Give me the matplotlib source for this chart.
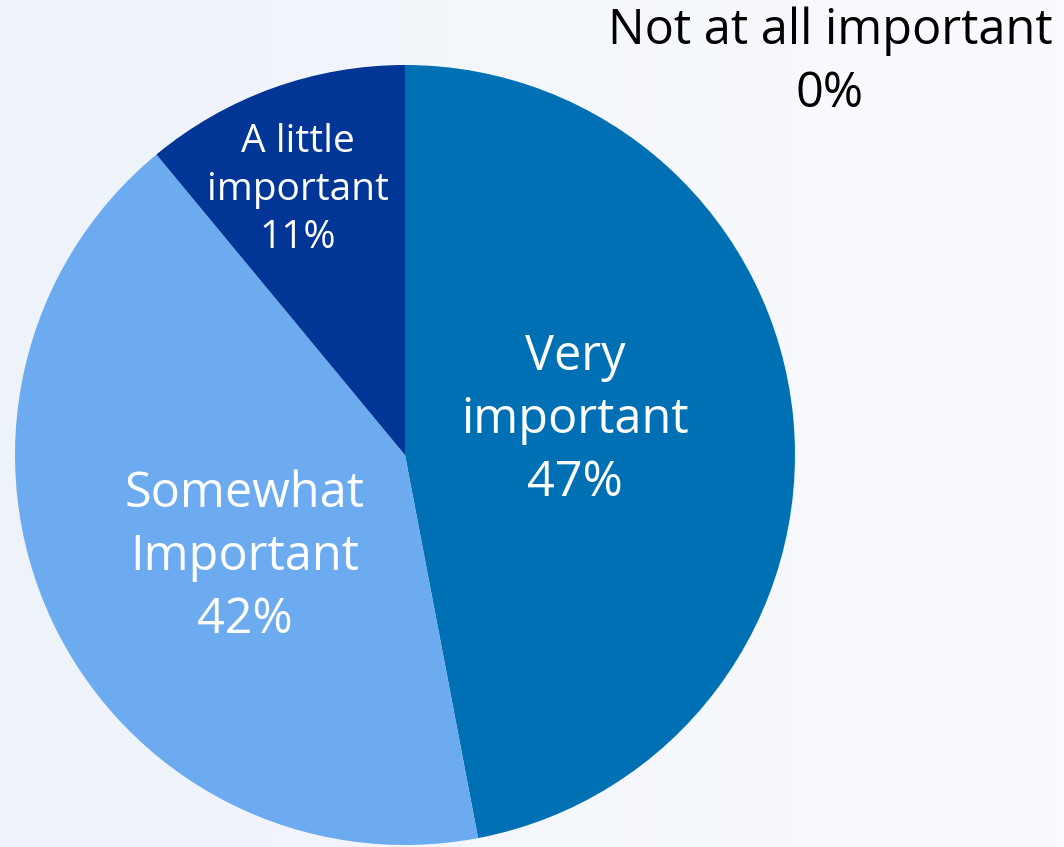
import matplotlib.pyplot as plt
import numpy as np

# survey answers
categories = ["Very\nimportant", "Somewhat\nImportant", "A little\nimportant", "Not at all important"]
shares = [47, 42, 11, 0]
colors = ["#0070B5", "#6DABF1", "#013596", "#1F4E9A"]

W, H = 1064, 847
fig = plt.figure(figsize=(W / 100, H / 100), dpi=100)
ax = fig.add_axes([0, 0, 1, 1])

center = (405, H - 455)
radius = 390
wedges, _ = ax.pie(shares, colors=colors, startangle=90, counterclock=False,
                   center=center, radius=radius, wedgeprops=dict(linewidth=0))
for w in wedges:
    w.set_zorder(1)

# soft left-to-right background gradient
grad = np.linspace(0, 1, 256).reshape(1, -1)
c0 = np.array([0xEE, 0xF3, 0xFA]) / 255
c1 = np.array([0xFA, 0xFB, 0xFE]) / 255
img = c0[None, None, :] * (1 - grad[..., None]) + c1[None, None, :] * grad[..., None]
ax.imshow(img, extent=[0, W, 0, H], aspect="auto", zorder=0)

# pie() resets the limits, so set them afterwards
ax.set_xlim(0, W)
ax.set_ylim(0, H)
ax.set_aspect("equal")
ax.axis("off")

# label spots (pixel positions from the original layout)
label_pos = [(575, 420), (245, 557), (298, 190), (830, 63)]
label_size = [35, 35, 28, 35]
label_col = ["white", "white", "white", "black"]
for cat, val, (x, y), fs, c in zip(categories, shares, label_pos, label_size, label_col):
    ax.text(x, H - y, f"{cat}\n{val}%", ha="center", va="center", fontsize=fs,
            color=c, family="Open Sans", linespacing=1.36, zorder=3)

fig.savefig("out.png", dpi=100)
